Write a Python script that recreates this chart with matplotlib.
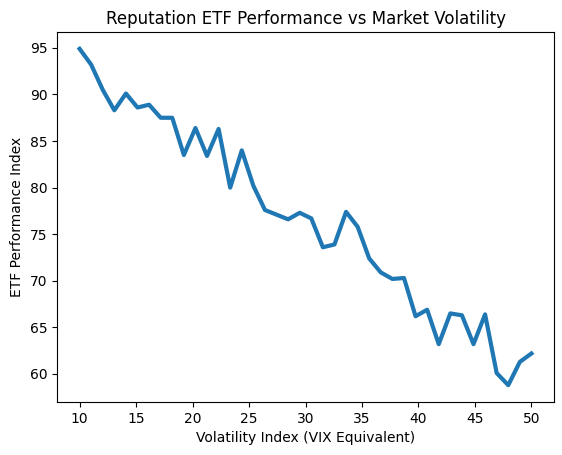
import numpy as np
import matplotlib
matplotlib.use('Agg')
import matplotlib.pyplot as plt

# Volatility index values (40 evenly spaced points from 10 to 50)
volatility = np.linspace(10, 50, 40)

# ETF performance
performance = [94.9, 93.2, 90.5, 88.3, 90.1, 88.6, 88.9, 87.5, 87.5, 83.5,
               86.4, 83.4, 86.3, 80.0, 84.0, 80.2, 77.6, 77.1, 76.6, 77.3,
               76.7, 73.6, 73.9, 77.4, 75.8, 72.4, 70.9, 70.2, 70.3, 66.2,
               66.9, 63.2, 66.5, 66.3, 63.2, 66.4, 60.1, 58.8, 61.3, 62.2]

plt.figure(figsize=(5.62, 4.55), dpi=100)
plt.subplots_adjust(left=0.1014, right=0.9858, top=0.9297, bottom=0.1165)
plt.plot(volatility, performance, color='#1f77b4', linewidth=3)
plt.xlabel('Volatility Index (VIX Equivalent)')
plt.ylabel('ETF Performance Index')
plt.title('Reputation ETF Performance vs Market Volatility')
plt.savefig('out.png', dpi=100)
